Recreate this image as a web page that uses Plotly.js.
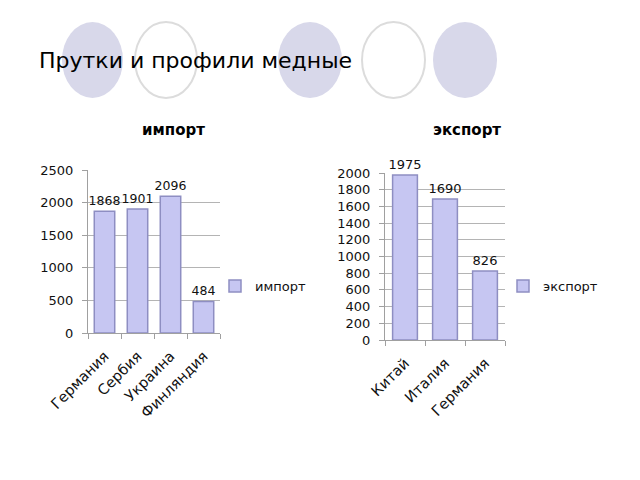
<!DOCTYPE html>
<html>
<head>
<meta charset="utf-8">
<script src="https://cdn.plot.ly/plotly-3.0.1.min.js"></script>
<style>html,body{margin:0;padding:0;background:#fff;}#chart{width:640px;height:480px;}</style>
</head>
<body>
<div id="chart"></div>
<script>
const slideTitle = 'Прутки и профили медные';
const importTitle = 'импорт';
const exportTitle = 'экспорт';
const importCountries = ['Германия', 'Сербия', 'Украина', 'Финляндия'];
const importValues = [1868, 1901, 2096, 484];
const exportCountries = ['Китай', 'Италия', 'Германия'];
const exportValues = [1975, 1690, 826];
const importTicks = [0, 500, 1000, 1500, 2000, 2500];
const exportTicks = [0, 200, 400, 600, 800, 1000, 1200, 1400, 1600, 1800, 2000];

const W = 640, H = 480;
const px = v => v / W;
const py = v => 1 - v / H;

const FONT = 'DejaVu Sans, Liberation Sans, Arial, sans-serif';
const barFill = '#c6c6f2';
const barLine = '#8e8ec2';

const traces = [
  {
    type: 'bar', name: importTitle, x: importCountries, y: importValues,
    xaxis: 'x', yaxis: 'y', legend: 'legend',
    marker: {color: barFill, line: {color: barLine, width: 1.5}},
    text: importValues.map(String), textposition: 'outside', cliponaxis: false, constraintext: 'none',
    textfont: {family: FONT, size: 12.5, color: '#111'}, hoverinfo: 'skip'
  },
  {
    type: 'bar', name: exportTitle, x: exportCountries, y: exportValues,
    xaxis: 'x2', yaxis: 'y2', legend: 'legend2',
    marker: {color: barFill, line: {color: barLine, width: 1.5}},
    text: exportValues.map(String), textposition: 'outside', cliponaxis: false, constraintext: 'none',
    textfont: {family: FONT, size: 13, color: '#111'}, hoverinfo: 'skip'
  }
];

const xCommon = {
  showgrid: false, showline: true, linecolor: '#a0a0a0', linewidth: 1,
  ticks: 'outside', tickson: 'boundaries', ticklen: 5, tickcolor: '#a0a0a0',
  ticklabelstandoff: 8,
  tickangle: -45, tickfont: {family: FONT, size: 14.5, color: '#111'}, fixedrange: true
};
const yCommon = {
  showgrid: true, gridcolor: '#b4b4b4', gridwidth: 1, zeroline: false,
  showline: true, linecolor: '#a0a0a0', linewidth: 1,
  ticks: 'outside', ticklen: 5, tickcolor: '#a0a0a0', ticklabelstandoff: 6,
  tickfont: {family: FONT, size: 13, color: '#111'}, fixedrange: true
};

const circles = [
  {x0: 62, x1: 123, filled: true},
  {x0: 135, x1: 197, filled: false},
  {x0: 278, x1: 342, filled: true},
  {x0: 362, x1: 425, filled: false},
  {x0: 433, x1: 497, filled: true}
].map(c => ({
  type: 'circle', xref: 'paper', yref: 'paper', layer: 'below',
  x0: px(c.x0), x1: px(c.x1), y0: py(98), y1: py(22),
  fillcolor: c.filled ? '#d8d8ea' : 'rgba(0,0,0,0)',
  line: {color: c.filled ? 'rgba(0,0,0,0)' : '#dcdcdc', width: 2}
}));

const layout = {
  width: W, height: H,
  margin: {l: 0, r: 0, t: 0, b: 0},
  paper_bgcolor: '#fff', plot_bgcolor: 'rgba(0,0,0,0)',
  font: {family: FONT, color: '#111'},
  bargap: 0.38,
  xaxis: Object.assign({}, xCommon, {domain: [px(88), px(220)], anchor: 'y'}),
  yaxis: Object.assign({}, yCommon, {domain: [1 - 333 / H, 1 - 170 / H], range: [0, 2500], tickvals: importTicks, anchor: 'x'}),
  xaxis2: Object.assign({}, xCommon, {domain: [px(385), px(505)], anchor: 'y2'}),
  yaxis2: Object.assign({}, yCommon, {domain: [1 - 340 / H, 1 - 173 / H], range: [0, 2000], tickvals: exportTicks, anchor: 'x2'}),
  legend: {x: px(215), y: py(286), xanchor: 'left', yanchor: 'middle', itemwidth: 30,
           font: {family: FONT, size: 13, color: '#111'}, bgcolor: 'rgba(0,0,0,0)'},
  legend2: {x: px(503), y: py(286), xanchor: 'left', yanchor: 'middle', itemwidth: 30,
            font: {family: FONT, size: 13, color: '#111'}, bgcolor: 'rgba(0,0,0,0)'},
  shapes: circles,
  annotations: [
    {text: slideTitle, xref: 'paper', yref: 'paper', x: px(37), y: py(60), xanchor: 'left', yanchor: 'middle',
     showarrow: false, font: {family: FONT, size: 22, color: '#000'}},
    {text: '<b>' + importTitle + '</b>', xref: 'paper', yref: 'paper', x: px(173), y: py(130), xanchor: 'center', yanchor: 'middle',
     showarrow: false, font: {family: FONT, size: 15, color: '#000'}},
    {text: '<b>' + exportTitle + '</b>', xref: 'paper', yref: 'paper', x: px(467), y: py(130), xanchor: 'center', yanchor: 'middle',
     showarrow: false, font: {family: FONT, size: 15, color: '#000'}}
  ],
  showlegend: true
};

Plotly.newPlot('chart', traces, layout, {staticPlot: true, displayModeBar: false});
</script>
</body>
</html>
